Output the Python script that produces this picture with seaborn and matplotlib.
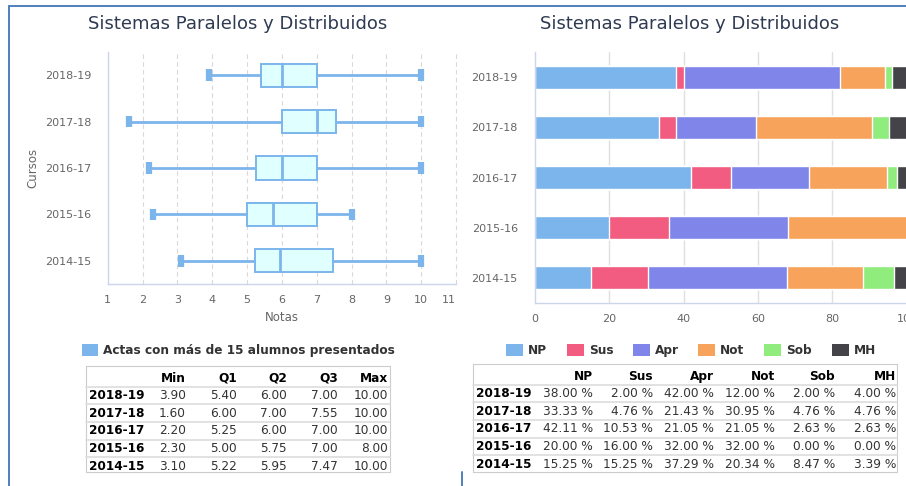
import numpy as np
import pandas as pd
import matplotlib
matplotlib.use('Agg')
import matplotlib.pyplot as plt
import seaborn as sns
from matplotlib.lines import Line2D
from matplotlib.patches import Rectangle

# -----------------------------------------------------------------------------
# Datos
# -----------------------------------------------------------------------------
titulo = 'Sistemas Paralelos y Distribuidos'
cursos = ['2018-19', '2017-18', '2016-17', '2015-16', '2014-15']

nota_min = [3.90, 1.60, 2.20, 2.30, 3.10]
nota_q1 = [5.40, 6.00, 5.25, 5.00, 5.22]
nota_q2 = [6.00, 7.00, 6.00, 5.75, 5.95]
nota_q3 = [7.00, 7.55, 7.00, 7.00, 7.47]
nota_max = [10.00, 10.00, 10.00, 8.00, 10.00]

calificaciones = ['NP', 'Sus', 'Apr', 'Not', 'Sob', 'MH']
pct_np = [38.00, 33.33, 42.11, 20.00, 15.25]
pct_sus = [2.00, 4.76, 10.53, 16.00, 15.25]
pct_apr = [42.00, 21.43, 21.05, 32.00, 37.29]
pct_not = [12.00, 30.95, 21.05, 32.00, 20.34]
pct_sob = [2.00, 4.76, 2.63, 0.00, 8.47]
pct_mh = [4.00, 4.76, 2.63, 0.00, 3.39]
colores = ['#7cb5ec', '#f15c80', '#8085e9', '#f7a35c', '#90ed7d', '#434348']

W, H = 906, 486
AXIS_COL = '#ccd6eb'
TXT_COL = '#666666'
TITLE_COL = '#2e3a52'
BORDER_COL = '#4f7fbd'


def fx(x):
    return x / W


def fy(y):
    return 1 - y / H


sns.set_theme(style='white')
plt.rcParams['font.family'] = ['DejaVu Sans']

fig = plt.figure(figsize=(W / 100, H / 100), dpi=100)

# -----------------------------------------------------------------------------
# Boxplot (izquierda)
# -----------------------------------------------------------------------------
ax1 = fig.add_axes([fx(107.7), fy(284), fx(456) - fx(107.7), fy(52) - fy(284)])

# cinco valores por curso: con 5 puntos los cuartiles coinciden con la tabla
df_box = pd.DataFrame({
    'curso': np.repeat(cursos, 5),
    'nota': np.column_stack([nota_min, nota_q1, nota_q2, nota_q3, nota_max]).ravel(),
})
sns.boxplot(data=df_box, x='nota', y='curso', order=cursos, orient='h',
            whis=(0, 100), width=0.5, color='#e0ffff', saturation=1,
            linecolor='#7cb5ec', linewidth=1.4, ax=ax1,
            medianprops=dict(linewidth=2),
            whiskerprops=dict(linewidth=2),
            capprops=dict(linewidth=4.5, solid_capstyle='butt'))

ax1.set_xlim(1, 11)
ax1.set_ylim(4.5, -0.5)
ax1.set_xticks(range(1, 12))
for v in range(2, 12):
    ax1.axvline(v, color='#d9d9d9', lw=0.8, ls=(0, (4, 3)), zorder=0, clip_on=False)

ax1.set_xlabel('Notas', color=TXT_COL, fontsize=8.5, labelpad=4)
ax1.set_ylabel('Cursos', color=TXT_COL, fontsize=8.5, labelpad=4)

# -----------------------------------------------------------------------------
# Barras apiladas (derecha)
# -----------------------------------------------------------------------------
ax2 = fig.add_axes([fx(534.5), fy(303), fx(907) - fx(534.5), fy(52) - fy(303)])

series = [pct_np, pct_sus, pct_apr, pct_not, pct_sob, pct_mh]
acumulado = np.cumsum(np.array(series), axis=0)
# se dibuja de la mayor suma acumulada a la menor, superponiendo
for i in range(len(series) - 1, -1, -1):
    df_bar = pd.DataFrame({'curso': cursos, 'pct': acumulado[i]})
    sns.barplot(data=df_bar, x='pct', y='curso', order=cursos, orient='h',
                color=colores[i], saturation=1, width=0.46,
                edgecolor='white', linewidth=1, ax=ax2)

ax2.set_xlim(0, 100)
ax2.set_ylim(4.5, -0.5)
ax2.set_xticks([0, 20, 40, 60, 80, 100])
for v in [20, 40, 60, 80, 100]:
    ax2.axvline(v, color='#e0e0e0', lw=1, zorder=0)
ax2.set_xlabel('')
ax2.set_ylabel('')

# estilo de ejes común
for ax in (ax1, ax2):
    ax.set_facecolor('white')
    for s in ('top', 'right'):
        ax.spines[s].set_visible(False)
    for s in ('left', 'bottom'):
        ax.spines[s].set_color(AXIS_COL)
        ax.spines[s].set_linewidth(1)
    ax.set_axisbelow(True)
    ax.set_yticks(np.arange(-0.5, 5, 1), minor=True)
    ax.tick_params(axis='y', which='minor', length=6.5, color=AXIS_COL, width=1)
    ax.tick_params(axis='y', which='major', length=0, labelsize=8, labelcolor=TXT_COL, pad=12)
    ax.tick_params(axis='x', which='major', length=0, labelsize=8, labelcolor=TXT_COL, pad=8)

# la etiqueta "11" queda pegada al borde, alineada a la derecha
ax1.get_xticklabels()[-1].set_horizontalalignment('right')

# -----------------------------------------------------------------------------
# Títulos, leyendas y bordes
# -----------------------------------------------------------------------------
fig.text(fx(238), fy(24), titulo, ha='center', va='center', fontsize=13, color=TITLE_COL)
fig.text(fx(690), fy(24), titulo, ha='center', va='center', fontsize=13, color=TITLE_COL)

fig.add_artist(Rectangle((fx(82), fy(356)), fx(16), fy(344) - fy(356),
                         transform=fig.transFigure, color='#7cb5ec', lw=0))
fig.text(fx(103), fy(350), 'Actas con más de 15 alumnos presentados', ha='left', va='center',
         fontsize=8.7, fontweight='bold', color='#333333')

leyenda_x = [506, 567, 633, 698, 764, 832]
for lx, nombre, col in zip(leyenda_x, calificaciones, colores):
    fig.add_artist(Rectangle((fx(lx), fy(356)), fx(17), fy(344) - fy(356),
                             transform=fig.transFigure, color=col, lw=0))
    fig.text(fx(lx + 22), fy(350), nombre, ha='left', va='center',
             fontsize=8.7, fontweight='bold', color='#333333')


def linea(x0, y0, x1, y1, color, lw):
    fig.add_artist(Line2D([fx(x0), fx(x1)], [fy(y0), fy(y1)], transform=fig.transFigure,
                          color=color, lw=lw))


def tabla(left, right, top, bottom, encabezados, col_right, filas):
    header_y = top + 12
    row_y = [header_y + 17.6 * (k + 1) for k in range(len(filas))]
    linea(left, top, right, top, '#cccccc', 0.8)
    linea(left, bottom, right, bottom, '#cccccc', 0.8)
    linea(left, top, left, bottom, '#cccccc', 0.8)
    linea(right, top, right, bottom, '#cccccc', 0.8)
    for k in range(len(filas)):
        yl = header_y + 17.6 * k + 8.8
        linea(left, yl, right, yl, '#dddddd', 1.2)
    for cx, h in zip(col_right, encabezados):
        fig.text(fx(cx), fy(header_y), h, ha='right', va='center',
                 fontsize=8.7, fontweight='bold', color='black')
    for ry, (etiqueta, valores) in zip(row_y, filas):
        fig.text(fx(left + 3), fy(ry), etiqueta, ha='left', va='center',
                 fontsize=8.7, fontweight='bold', color='black')
        for cx, v in zip(col_right, valores):
            fig.text(fx(cx), fy(ry), v, ha='right', va='center', fontsize=8.7, color='#333333')


filas_box = [(c, [f'{a:.2f}' for a in vals])
             for c, vals in zip(cursos, zip(nota_min, nota_q1, nota_q2, nota_q3, nota_max))]
tabla(86, 390, 366, 472, ['Min', 'Q1', 'Q2', 'Q3', 'Max'],
      [186, 237, 287, 338, 388], filas_box)

filas_pct = [(c, [f'{a:.2f} %' for a in vals])
             for c, vals in zip(cursos, zip(*series))]
tabla(473, 897, 364, 472, calificaciones,
      [593, 653, 714, 775, 835, 896], filas_pct)

linea(9, 6, 906, 6, BORDER_COL, 1.4)
linea(9, 6, 9, 486, BORDER_COL, 1.4)
linea(462, 472, 462, 486, BORDER_COL, 1.4)

fig.savefig('out.png', dpi=100)
